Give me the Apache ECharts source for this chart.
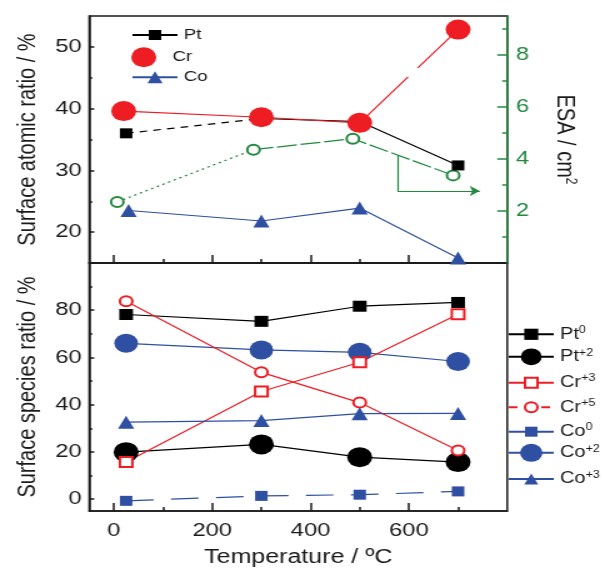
<!DOCTYPE html>
<html>
<head>
<meta charset="utf-8">
<script src="https://cdn.jsdelivr.net/npm/echarts@6.0.0/dist/echarts.min.js"></script>
<style>
  html, body { margin: 0; padding: 0; background: #fff; overflow: hidden; }
  /* the figure is laid out narrow and widened horizontally */
  #chart { width: 483.2px; height: 577px; transform: scaleX(1.25); transform-origin: 0 0; }
</style>
</head>
<body>
<div id="chart"></div>
<script>
const FONT = '"Liberation Sans", Arial, Helvetica, sans-serif';
const INK = '#1a1a1a';
const RED = '#ee1d24';
const BLUE = '#2f4fa2';
const GREEN = '#23893f';
const BLACK = '#000000';

// Temperature axis (°C)
const tempRange = [-50, 800];
const tempTicks = [0, 200, 400, 600];
const tempMinorTicks = [100, 300, 500, 700];

// Upper panel: surface atomic ratio (%)
const atomicRange = [15, 55];
const atomicTicks = [20, 30, 40, 50];
const atomicMinorTicks = [25, 35, 45];
const tPt = [25, 300, 500, 700];
const ptAtomic = [36.0, 38.4, 37.9, 30.8];
const tCr = [20, 300, 500, 700];
const crAtomic = [39.6, 38.6, 37.7, 52.8];
const tCo = [30, 300, 500, 700];
const coAtomic = [23.5, 21.8, 23.9, 15.8];

// Upper panel, right axis: electrochemical surface area (cm²)
const esaRange = [0, 9.5];
const esaTicks = [2, 4, 6, 8];
const esaMinorTicks = [1, 3, 5, 7, 9];
const tEsa = [7, 284, 486, 690];
const esaArea = [2.35, 4.36, 4.78, 3.37];
// arrow pointing from the ESA curve to its axis: [temperature, ESA]
const esaArrowStart = [577, 4.15];
const esaArrowCorner = [577, 2.77];
const esaArrowEnd = [744, 2.77];

// Lower panel: surface species ratio (%)
const speciesRange = [-5, 100];
const speciesTicks = [0, 20, 40, 60, 80];
const speciesMinorTicks = [10, 30, 50, 70, 90];
const tSpecies = [25, 300, 500, 700];
const ptZero = [78.2, 75.3, 81.7, 83.3];
const ptTwo = [19.9, 23.2, 17.8, 15.7];
const crThree = [15.7, 45.6, 58.0, 78.3];
const crFive = [83.8, 53.7, 40.9, 20.6];
const coZero = [-0.7, 1.4, 1.9, 3.3];
const coTwo = [66.0, 63.2, 62.2, 58.3];
const coThree = [32.6, 33.3, 36.2, 36.3];

const pairs = (xs, ys) => xs.map((x, i) => [x, ys[i]]);

const TOP = { xAxisIndex: 0, yAxisIndex: 0 };
const TOP_ESA = { xAxisIndex: 0, yAxisIndex: 2 };
const BOTTOM = { xAxisIndex: 2, yAxisIndex: 4 };

function markers(name, xs, ys, axes, symbol, size, color, showLine, lineType) {
  const hollow = symbol.indexOf('empty') === 0;
  return Object.assign({
    type: 'line', name, data: pairs(xs, ys),
    symbol, symbolSize: size, showSymbol: true, showAllSymbol: true,
    itemStyle: { color, borderColor: color, borderWidth: hollow ? 1.5 : 0 },
    lineStyle: { color, width: 1.2, type: lineType || 'solid', opacity: showLine ? 1 : 0 },
    emphasis: { disabled: true },
    animation: false, silent: true
  }, axes);
}

function path(name, xs, ys, from, to, axes, color, type) {
  return Object.assign({
    type: 'line', name, data: pairs(xs, ys).slice(from, to), symbol: 'none',
    lineStyle: { color, width: 1.2, type },
    emphasis: { disabled: true },
    animation: false, silent: true
  }, axes);
}

function xAxisPair(gridIndex, withLabels) {
  return [
    {
      type: 'value', gridIndex, position: 'bottom', min: tempRange[0], max: tempRange[1],
      axisLine: { show: true, onZero: false, lineStyle: { color: INK, width: 1.5 } },
      axisTick: { show: true, inside: true, length: 8, customValues: tempTicks, lineStyle: { color: INK, width: 1.5 } },
      axisLabel: withLabels
        ? { show: true, customValues: tempTicks, fontFamily: FONT, fontSize: 19, color: INK, margin: 10 }
        : { show: false },
      splitLine: { show: false },
      name: withLabels ? 'Temperature / ºC' : '',
      nameLocation: 'middle', nameGap: 36,
      nameTextStyle: { fontFamily: FONT, fontSize: 20, color: INK }
    },
    {
      type: 'value', gridIndex, position: 'bottom', min: tempRange[0], max: tempRange[1],
      axisLine: { show: false, onZero: false },
      axisTick: { show: true, inside: true, length: 4, customValues: tempMinorTicks, lineStyle: { color: INK, width: 1.5 } },
      axisLabel: { show: false },
      splitLine: { show: false }
    }
  ];
}

function yAxisPair(gridIndex, position, range, ticks, minor, color, majorLen, minorLen, name, nameRotate, nameGap, nameStyle) {
  return [
    {
      type: 'value', gridIndex, position, min: range[0], max: range[1], z: 3,
      axisLine: { show: true, onZero: false, lineStyle: { color, width: 1.5 } },
      axisTick: { show: true, inside: true, length: majorLen, customValues: ticks, lineStyle: { color, width: 1.5 } },
      axisLabel: { show: true, customValues: ticks, fontFamily: FONT, fontSize: 19, color, margin: position === 'left' ? 6 : 7 },
      splitLine: { show: false },
      name, nameLocation: 'middle', nameRotate, nameGap,
      nameTextStyle: nameStyle
    },
    {
      type: 'value', gridIndex, position, min: range[0], max: range[1], z: 3,
      axisLine: { show: false, onZero: false },
      axisTick: { show: true, inside: true, length: minorLen, customValues: minor, lineStyle: { color, width: 1.5 } },
      axisLabel: { show: false },
      splitLine: { show: false }
    }
  ];
}

const titleStyle = { fontFamily: FONT, fontSize: 20, color: INK };

// species names are element + charge; the charge is set as a superscript
const richLabel = {
  a: { fontFamily: FONT, fontSize: 16, lineHeight: 18, verticalAlign: 'middle', color: INK },
  s: { fontFamily: FONT, fontSize: 10, lineHeight: 10, verticalAlign: 'top', color: INK }
};
const speciesFormatter = (n) => '{a|' + n.slice(0, 2) + '}{s|' + n.slice(2) + '}';

function legendItem(item, left, top, itemHeight, rich) {
  return {
    data: [item], left, top, orient: 'vertical', padding: 0,
    itemWidth: 36, itemHeight, itemGap: 0, selectedMode: false,
    textStyle: rich
      ? { rich: richLabel }
      : { fontFamily: FONT, fontSize: 15, lineHeight: 20, color: INK },
    formatter: rich ? speciesFormatter : '{name}'
  };
}

const series = [
  // upper panel — ESA (right axis)
  path('ESA low', tEsa, esaArea, 0, 2, TOP_ESA, GREEN, [2, 3]),
  path('ESA high', tEsa, esaArea, 1, 4, TOP_ESA, GREEN, [16, 3]),
  Object.assign(markers('ESA', tEsa, esaArea, TOP_ESA, 'emptyCircle', 10, GREEN, false), {
    markLine: {
      silent: true, animation: false,
      label: { show: false },
      lineStyle: { color: GREEN, width: 1.2, type: 'solid' },
      emphasis: { disabled: true },
      data: [
        [{ coord: esaArrowStart, symbol: 'none' }, { coord: esaArrowCorner, symbol: 'none' }],
        [{ coord: esaArrowCorner, symbol: 'none' }, { coord: esaArrowEnd, symbol: 'arrow', symbolSize: 8 }]
      ]
    }
  }),
  // upper panel — atomic ratios
  markers('Co', tCo, coAtomic, TOP, 'triangle', 13, BLUE, true),
  path('Pt early', tPt, ptAtomic, 0, 2, TOP, BLACK, [6, 5]),
  path('Pt late', tPt, ptAtomic, 1, 4, TOP, BLACK, 'solid'),
  markers('Pt', tPt, ptAtomic, TOP, 'rect', 10, BLACK, false),
  path('Cr early', tCr, crAtomic, 0, 3, TOP, RED, 'solid'),
  path('Cr late', tCr, crAtomic, 2, 4, TOP, RED, [60, 12]),
  markers('Cr', tCr, crAtomic, TOP, 'circle', 20, RED, false),

  // lower panel — species ratios
  markers('Pt0', tSpecies, ptZero, BOTTOM, 'rect', 11, BLACK, true),
  markers('Pt+2', tSpecies, ptTwo, BOTTOM, 'circle', 20, BLACK, true),
  markers('Co0', tSpecies, coZero, BOTTOM, 'rect', 10, BLUE, true, [22, 14]),
  markers('Co+2', tSpecies, coTwo, BOTTOM, 'circle', 19, BLUE, true),
  markers('Cr+3', tSpecies, crThree, BOTTOM, 'emptyRect', 10, RED, true),
  markers('Cr+5', tSpecies, crFive, BOTTOM, 'emptyCircle', 10, RED, true),
  markers('Co+3', tSpecies, coThree, BOTTOM, 'triangle', 13, BLUE, true)
];

const legend = [
  legendItem({ name: 'Pt', lineStyle: { opacity: 1 } }, 105, 25, 12.5, false),
  legendItem({ name: 'Cr', icon: 'circle' }, 105, 47.3, 20, false),
  legendItem({ name: 'Co' }, 105, 67.3, 15, false),

  legendItem({ name: 'Pt0' }, 406, 325.3, 14, true),
  legendItem({ name: 'Pt+2' }, 406, 347.8, 21, true),
  legendItem({ name: 'Cr+3' }, 406, 373.7, 12.5, true),
  legendItem({ name: 'Cr+5', lineStyle: { type: [7, 6] } }, 406, 398.3, 12.5, true),
  legendItem({ name: 'Co0', lineStyle: { type: 'solid' } }, 406, 422.7, 12.5, true),
  legendItem({ name: 'Co+2' }, 406, 443.8, 22.5, true),
  legendItem({ name: 'Co+3' }, 406, 470, 14, true)
];

const option = {
  backgroundColor: '#ffffff',
  animation: false,
  textStyle: { fontFamily: FONT },
  grid: [
    { left: 71.4, top: 16, width: 334.4, height: 247, show: true, borderColor: INK, borderWidth: 1.5, backgroundColor: 'transparent' },
    { left: 71.4, top: 263, width: 334.4, height: 248, show: true, borderColor: INK, borderWidth: 1.5, backgroundColor: 'transparent' }
  ],
  xAxis: [].concat(xAxisPair(0, false), xAxisPair(1, true)),
  yAxis: [].concat(
    yAxisPair(0, 'left', atomicRange, atomicTicks, atomicMinorTicks, INK, 4, 2.5,
      'Surface atomic ratio / %', 90, 39, titleStyle),
    yAxisPair(0, 'right', esaRange, esaTicks, esaMinorTicks, GREEN, 8, 4,
      '{a|ESA / cm}{s|2}', -90, 35, {
        rich: {
          a: { fontFamily: FONT, fontSize: 20, lineHeight: 22, verticalAlign: 'middle', color: INK },
          s: { fontFamily: FONT, fontSize: 12, lineHeight: 12, verticalAlign: 'top', color: INK }
        }
      }),
    yAxisPair(1, 'left', speciesRange, speciesTicks, speciesMinorTicks, INK, 4, 2.5,
      'Surface species ratio / %', 90, 39, titleStyle)
  ),
  legend,
  series
};

const chart = echarts.init(document.getElementById('chart'), null, { renderer: 'canvas' });
chart.setOption(option);
</script>
</body>
</html>
